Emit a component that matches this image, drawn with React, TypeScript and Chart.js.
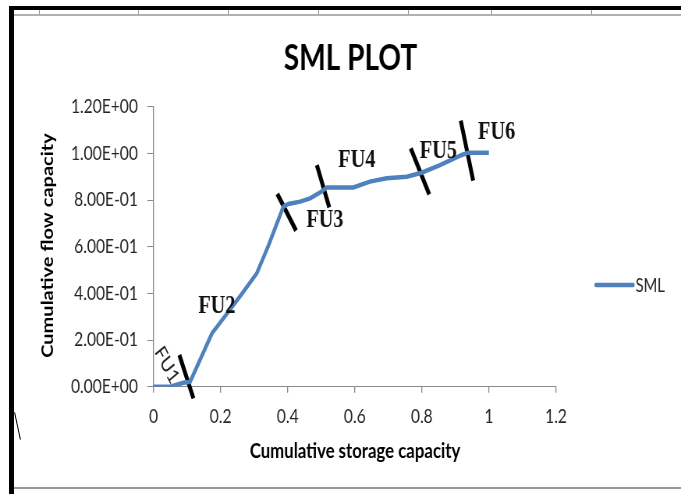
import React, { useEffect, useRef } from "react";
import { Chart, registerables } from "chart.js";

Chart.register(...registerables);

// canvas is drawn wider and squeezed horizontally (the reference is a squeezed screenshot)
const CANVAS_W = 873;
const CANVAS_H = 494;
const SCREEN_W = 681;
const SX = CANVAS_W / SCREEN_W;

// SML curve
const smlX = [0, 0.05, 0.089, 0.109, 0.174, 0.204, 0.262, 0.308, 0.343, 0.387, 0.402, 0.437, 0.467, 0.501, 0.516, 0.596, 0.645, 0.695, 0.755, 0.799, 0.854, 0.919, 0.938, 1.0];
const smlY = [0, 0, 0.017, 0.021, 0.228, 0.285, 0.395, 0.486, 0.606, 0.771, 0.783, 0.793, 0.807, 0.836, 0.854, 0.854, 0.879, 0.893, 0.9, 0.917, 0.95, 0.993, 1.003, 1.003];

// flow-unit boundary marks (start / end points)
const slashX1 = [0.077, 0.369, 0.487, 0.767, 0.916];
const slashY1 = [0.136, 0.826, 0.95, 1.021, 1.14];
const slashX2 = [0.119, 0.425, 0.524, 0.822, 0.953];
const slashY2 = [-0.05, 0.669, 0.769, 0.824, 0.883];

// flow-unit labels
const fuNames = ["FU1", "FU2", "FU3", "FU4", "FU5", "FU6"];
const fuLabelX = [0.04, 0.189, 0.511, 0.606, 0.849, 1.023];
const fuLabelY = [0.093, 0.343, 0.714, 0.972, 1.007, 1.089];

const xTickLabels = ["0", "0.2", "0.4", "0.6", "0.8", "1", "1.2"];
const yTickLabels = ["0.00E+00", "2.00E-01", "4.00E-01", "6.00E-01", "8.00E-01", "1.00E+00", "1.20E+00"];

const LINE_BLUE = "#4F81BD";
const AXIS_GREY = "#898989";
const TEXT = "#262626";

const decorPlugin = {
  id: "decor",
  beforeDraw(chart: any) {
    const ctx = chart.ctx;
    ctx.save();
    ctx.fillStyle = "#ffffff";
    ctx.fillRect(0, 0, chart.width, chart.height);
    ctx.restore();
  },
  afterDatasetsDraw(chart: any) {
    const ctx = chart.ctx;
    const xs = chart.scales.x;
    const ys = chart.scales.y;
    ctx.save();
    ctx.fillStyle = "#111111";
    fuNames.forEach((name, i) => {
      const px = xs.getPixelForValue(fuLabelX[i]);
      const py = ys.getPixelForValue(fuLabelY[i]);
      if (i === 0) {
        ctx.save();
        ctx.translate(px, py);
        ctx.rotate((57 * Math.PI) / 180);
        ctx.font = "21px Lato";
        ctx.fillStyle = "#222";
        ctx.textAlign = "center";
        ctx.textBaseline = "middle";
        ctx.fillText(name, 0, 0);
        ctx.restore();
      } else {
        ctx.font = "bold 26px 'Liberation Serif'";
        ctx.textAlign = "center";
        ctx.textBaseline = "middle";
        ctx.fillText(name, px, py);
      }
    });
    ctx.restore();
  },
  afterDraw(chart: any) {
    const ctx = chart.ctx;
    ctx.save();
    ctx.fillStyle = "#000000";
    // title
    ctx.font = "bold 36px Lato";
    ctx.textAlign = "center";
    ctx.textBaseline = "alphabetic";
    ctx.fillText("SML PLOT", 350.5 * SX, 70);
    // x title
    ctx.font = "bold 21.5px Lato";
    ctx.textBaseline = "middle";
    ctx.fillText("Cumulative storage capacity", 355 * SX, 451);
    // y title
    ctx.font = "bold 20px Lato";
    ctx.save();
    ctx.translate(48 * SX, 245.5);
    ctx.rotate(-Math.PI / 2);
    ctx.fillText("Cumulative flow capacity", 0, 0);
    ctx.restore();
    // legend
    const ds = chart.data.datasets[0];
    ctx.strokeStyle = ds.borderColor;
    ctx.lineWidth = 4.5;
    ctx.lineCap = "round";
    ctx.beginPath();
    ctx.moveTo(596 * SX, 285);
    ctx.lineTo(633 * SX, 285);
    ctx.stroke();
    ctx.fillStyle = TEXT;
    ctx.font = "19px Lato";
    ctx.textAlign = "left";
    ctx.textBaseline = "middle";
    ctx.fillText(ds.label, 635.5 * SX, 286);
    ctx.restore();
  },
};

export default function App() {
  const ref = useRef<HTMLCanvasElement | null>(null);

  useEffect(() => {
    if (!ref.current) return;
    const slashSets = slashX1.map((x1, i) => ({
      label: "",
      data: [
        { x: x1, y: slashY1[i] },
        { x: slashX2[i], y: slashY2[i] },
      ],
      borderColor: "#000000",
      borderWidth: 5,
      pointRadius: 0,
      showLine: true,
      clip: false as any,
    }));
    const chart = new Chart(ref.current, {
      type: "line",
      data: {
        datasets: [
          {
            label: "SML",
            data: smlX.map((x, i) => ({ x, y: smlY[i] })),
            borderColor: LINE_BLUE,
            borderWidth: 4.5,
            pointRadius: 0,
            tension: 0,
            fill: false,
          },
          ...slashSets,
        ],
      },
      options: {
        animation: false,
        responsive: false,
        devicePixelRatio: 1,
        events: [],
        layout: {
          padding: { left: 20, top: 106.7, right: CANVAS_W - 556 * SX, bottom: CANVAS_H - 386.7 - 60 },
        },
        plugins: {
          legend: { display: false },
          title: { display: false },
          tooltip: { enabled: false },
        },
        scales: {
          x: {
            type: "linear",
            min: 0,
            max: 1.2,
            ticks: {
              stepSize: 0.2,
              callback: (v: any) => xTickLabels[Math.round(Number(v) / 0.2)],
              font: { family: "Lato", size: 20 },
              color: TEXT,
              padding: 12,
              maxRotation: 0,
            },
            grid: { drawOnChartArea: false, drawTicks: true, tickLength: 6, color: AXIS_GREY, lineWidth: 1.3 },
            border: { color: AXIS_GREY, width: 1 },
            afterFit: (s: any) => {
              s.height = 60;
            },
          },
          y: {
            type: "linear",
            min: 0,
            max: 1.2,
            ticks: {
              stepSize: 0.2,
              callback: (v: any) => yTickLabels[Math.round(Number(v) / 0.2)],
              font: { family: "Lato", size: 20 },
              color: TEXT,
              padding: 12,
            },
            grid: { drawOnChartArea: false, drawTicks: true, tickLength: 8, color: AXIS_GREY, lineWidth: 1 },
            border: { color: AXIS_GREY, width: 1.3 },
            afterFit: (s: any) => {
              s.width = 153.5 * SX - 20;
            },
          },
        },
      } as any,
      plugins: [decorPlugin],
    });
    return () => chart.destroy();
  }, []);

  const colTicks = [39, 138, 228, 318, 408, 491, 591];

  return (
    <div style={{ position: "fixed", left: 0, top: 0, width: SCREEN_W, height: CANVAS_H, overflow: "hidden", background: "#fff" }}>
      <div style={{ position: "absolute", left: 0, top: 0, transform: `scaleX(${SCREEN_W / CANVAS_W})`, transformOrigin: "0 0" }}>
        <canvas ref={ref} width={CANVAS_W} height={CANVAS_H} style={{ display: "block" }} />
      </div>
      {/* frame of the original screenshot */}
      <div style={{ position: "absolute", left: 9, top: 6, width: SCREEN_W - 9, height: 4, background: "#000" }} />
      <div style={{ position: "absolute", left: 9, top: 6, width: 5, height: CANVAS_H - 6, background: "#000" }} />
      <div style={{ position: "absolute", left: 14, top: 14, width: SCREEN_W - 14, height: 1.5, background: "#b0b0b0" }} />
      {colTicks.map((x) => (
        <div key={x} style={{ position: "absolute", left: x, top: 10, width: 1, height: 5, background: "#a0a0a0" }} />
      ))}
      <div style={{ position: "absolute", left: 14, top: 487, width: SCREEN_W - 14, height: 1.5, background: "#9a9a9a" }} />
      <div style={{ position: "absolute", left: 17, top: 412, width: 1, height: 28, background: "#000", transform: "rotate(-12deg)" }} />
    </div>
  );
}
